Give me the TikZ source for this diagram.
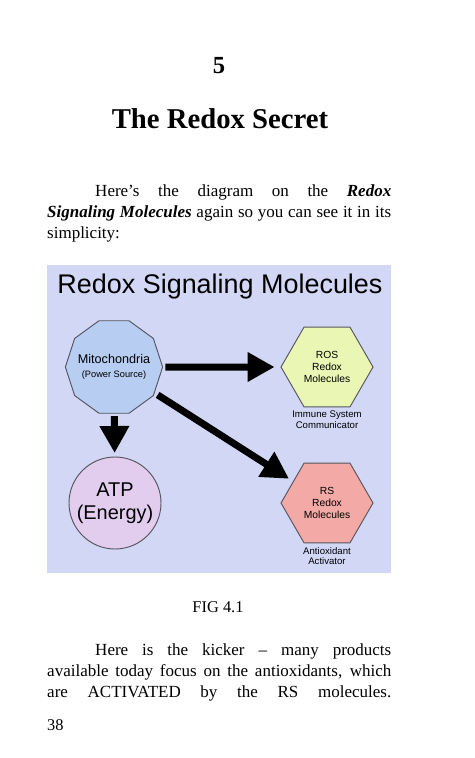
\documentclass[tikz,border=0pt]{standalone}
\usepackage{fontspec}
\setmainfont{Liberation Serif}
\newfontfamily\diagfont{Liberation Sans}
\usepackage{xcolor}
\definecolor{panelblue}{RGB}{210, 215, 246}
\definecolor{mitoblue}{RGB}{183, 205, 242}
\definecolor{rosgreen}{RGB}{234, 246, 180}
\definecolor{rspink}{RGB}{243, 170, 166}
\definecolor{atplilac}{RGB}{226, 205, 238}
\definecolor{edgegray}{RGB}{85, 85, 95}
\usetikzlibrary{shapes.geometric,arrows.meta,positioning}

\begin{document}
\begin{tikzpicture}[x=0.03cm, y=-0.03cm,
    molshape/.style={draw=edgegray, line width=0.8pt, inner sep=1pt, minimum size=2.76cm, align=center},
    hexmol/.style={molshape, regular polygon, regular polygon sides=6, font=\diagfont\fontsize{8.8}{10}\selectfont},
    fatarrow/.style={-{Triangle[width=0.84cm, length=0.81cm]}, line width=0.21cm},
    molcaption/.style={font=\diagfont\fontsize{8.2}{8.9}\selectfont, align=center, inner sep=0pt},
    bodytext/.style={font=\fontsize{14.5}{18.2}\selectfont, text width=10.32cm, align=justify, inner sep=0pt, anchor=base west}]
    % Page
    \fill[white] (0, 0) rectangle (474, 758);
    \useasboundingbox (0, 0) rectangle (474, 758);

    % Heading
    \node[anchor=base, font=\bfseries\fontsize{21}{24}\selectfont] (chapnum) at (219, 73.5) {5};
    \node[anchor=base, font=\bfseries\fontsize{24.5}{28}\selectfont] (chaptitle) at (220, 128.5) {The Redox Secret};

    % Text above the figure
    \node[bodytext] (introtext) at (47, 196) {\hspace*{1.44cm}Here's the diagram on the \textbf{\textit{Redox}}\linebreak \textbf{\textit{Signaling Molecules}} again so you can see it in its\linebreak simplicity:};

    % Figure panel
    \node[fill=panelblue, minimum width=10.32cm, minimum height=9.24cm, anchor=north west, inner sep=0pt] (panel) at (47, 265) {};
    \node[anchor=base, font=\diagfont\fontsize{23}{27}\selectfont] (paneltitle) at (220, 293) {Redox Signaling Molecules};

    % Source and energy
    \node[molshape, regular polygon, regular polygon sides=10, inner sep=-3pt, fill=mitoblue] (mito) at (114, 367)
        {{\diagfont\fontsize{10.8}{12.5}\selectfont Mitochondria}\\{\diagfont\fontsize{7.9}{10}\selectfont (Power Source)}};
    \node[molshape, circle, fill=atplilac, font=\diagfont\fontsize{17}{20}\selectfont] (atp) at (115, 503) {ATP\\(Energy)};

    % Redox molecules
    \foreach \name/\y/\col/\lab/\cap in {ros/367/rosgreen/ROS/{Immune System\\Communicator}, rs/503/rspink/RS/{Antioxidant\\Activator}} {
        \node[hexmol, fill=\col] (\name) at (327, \y) {\lab\\Redox\\Molecules};
        \node[molcaption, below=3pt of \name] (\name cap) {\cap};
    }

    % Connections
    \draw[fatarrow, shorten <=2pt, shorten >=5pt] (mito) -- (ros);
    \draw[fatarrow, shorten <=2pt, shorten >=3pt] (mito) -- (atp);
    \draw[fatarrow, shorten <=3pt, shorten >=4pt] (mito) -- (rs);

    % Caption and text below the figure
    \node[anchor=base, font=\fontsize{14}{17}\selectfont] (figcap) at (218, 612) {FIG 4.1};
    \node[bodytext] (kickertext) at (47, 655) {\parfillskip=0pt\hspace*{1.44cm}Here is the kicker -- many products\linebreak available today focus on the antioxidants, which\linebreak are ACTIVATED by the RS molecules.\par};
    \node[anchor=base west, inner sep=0pt, font=\fontsize{14}{17}\selectfont] (pagenum) at (47, 730) {38};
\end{tikzpicture}
\end{document}
